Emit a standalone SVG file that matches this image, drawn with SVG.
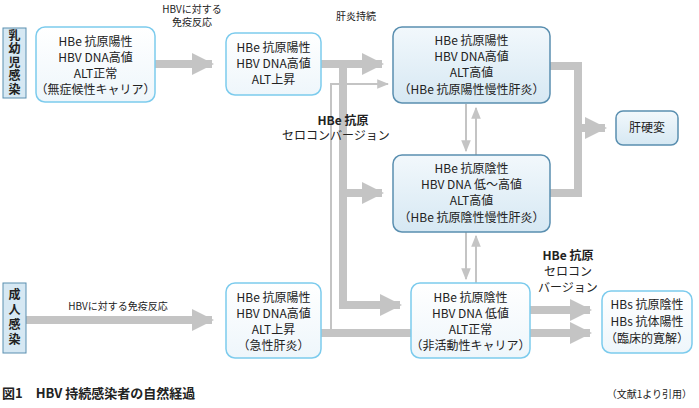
<svg xmlns="http://www.w3.org/2000/svg" width="699" height="408" viewBox="0 0 699 408">
<defs>
<linearGradient id="gw" x1="0" y1="0" x2="0" y2="1"><stop offset="0" stop-color="#ffffff"/><stop offset="1" stop-color="#eef6fb"/></linearGradient>
<linearGradient id="gb" x1="0" y1="0" x2="0" y2="1"><stop offset="0" stop-color="#f2f8fc"/><stop offset="1" stop-color="#d6e8f3"/></linearGradient>
<marker id="ah" viewBox="0 0 10 10" refX="9" refY="5" markerWidth="2.8" markerHeight="3.2" orient="auto" markerUnits="strokeWidth"><path d="M0,0L10,5L0,10z" fill="#c4c4c4"/></marker>
<marker id="at" viewBox="0 0 10 10" refX="9" refY="5" markerWidth="6" markerHeight="6" orient="auto" markerUnits="strokeWidth"><path d="M0,1L10,5L0,9z" fill="#c4c4c4"/></marker>
</defs>
<style>
text{font-family:"Noto Sans CJK JP","Noto Sans",sans-serif;fill:#222;text-anchor:middle}
.t{font-size:12px}
.v{font-size:12px;font-weight:bold;writing-mode:vertical-rl}
.s{font-size:10px}
.w{fill:url(#gw);stroke:#7ccbed;stroke-width:1.5}
.b{fill:url(#gb);stroke:#5a8fb0;stroke-width:1.5}
.side{fill:#d6e8f3;stroke:#5a8fb0;stroke-width:1}
.k{fill:none;stroke:#c4c4c4;stroke-width:8}
.n{fill:none;stroke:#c4c4c4;stroke-width:2}
</style>
<g id="connectors">
<path class="k" d="M155,64H212" marker-end="url(#ah)"/>
<path class="k" d="M321,64H382" marker-end="url(#ah)"/>
<path class="k" d="M343,64V305H400" marker-end="url(#ah)"/>
<path class="k" d="M343,193H382" marker-end="url(#ah)"/>
<path class="n" d="M331,333V84H388" marker-end="url(#at)"/>
<path class="k" d="M321,333H411"/>
<path class="k" d="M550,66H578V193H549"/>
<path class="k" d="M578,128H605" marker-end="url(#ah)"/>
<path class="k" d="M26,320H212" marker-end="url(#ah)"/>
<path class="k" d="M530,310H590" marker-end="url(#ah)"/>
<path class="k" d="M530,333H590" marker-end="url(#ah)"/>
<path class="n" d="M466,104V151" marker-end="url(#at)"/>
<path class="n" d="M476,155V108" marker-end="url(#at)"/>
<path class="n" d="M466,232V279" marker-end="url(#at)"/>
<path class="n" d="M476,283V236" marker-end="url(#at)"/>
</g>
<g id="side1"><rect class="side" x="3" y="28" width="23" height="70"/><text class="v" x="14.5" y="63" style="letter-spacing:1.5px">乳幼児感染</text></g>
<g id="side2"><rect class="side" x="3" y="283" width="23" height="70"/><text class="v" x="14.5" y="318" style="letter-spacing:3px">成人感染</text></g>
<g id="n1"><rect class="w" x="36" y="27" width="119" height="75" rx="9"/><text class="t" x="95.5" y="46">HBe 抗原陽性</text><text class="t" x="95.5" y="62">HBV DNA高値</text><text class="t" x="95.5" y="78">ALT正常</text><text class="t" x="95.5" y="94">（無症候性キャリア）</text></g>
<g id="n2"><rect class="w" x="226" y="33" width="95" height="62" rx="9"/><text class="t" x="273.5" y="52">HBe 抗原陽性</text><text class="t" x="273.5" y="68">HBV DNA高値</text><text class="t" x="273.5" y="84">ALT上昇</text></g>
<g id="n3"><rect class="b" x="393" y="27" width="157" height="76" rx="9"/><text class="t" x="471.5" y="45">HBe 抗原陽性</text><text class="t" x="471.5" y="61">HBV DNA高値</text><text class="t" x="471.5" y="77">ALT高値</text><text class="t" x="471.5" y="94">（HBe 抗原陽性慢性肝炎）</text></g>
<g id="n4"><rect class="b" x="393" y="155" width="157" height="77" rx="9"/><text class="t" x="471.5" y="173">HBe 抗原陰性</text><text class="t" x="471.5" y="189">HBV DNA 低〜高値</text><text class="t" x="471.5" y="205">ALT高値</text><text class="t" x="471.5" y="222">（HBe 抗原陰性慢性肝炎）</text></g>
<g id="n5"><rect class="b" x="616" y="111" width="62" height="34" rx="7"/><text class="t" x="647" y="132">肝硬変</text></g>
<g id="n6"><rect class="w" x="226" y="283" width="95" height="75" rx="9"/><text class="t" x="273.5" y="302">HBe 抗原陽性</text><text class="t" x="273.5" y="318">HBV DNA高値</text><text class="t" x="273.5" y="334">ALT上昇</text><text class="t" x="273.5" y="350">（急性肝炎）</text></g>
<g id="n7"><rect class="w" x="411" y="283" width="119" height="75" rx="9"/><text class="t" x="470.5" y="302">HBe 抗原陰性</text><text class="t" x="470.5" y="318">HBV DNA 低値</text><text class="t" x="470.5" y="334">ALT正常</text><text class="t" x="470.5" y="350">（非活動性キャリア）</text></g>
<g id="n8"><rect class="w" x="602" y="291" width="90" height="62" rx="9"/><text class="t" x="647" y="309">HBs 抗原陰性</text><text class="t" x="647" y="326">HBs 抗体陽性</text><text class="t" x="647" y="343">（臨床的寛解）</text></g>
<g id="labels">
<text class="s" x="192" y="13">HBVに対する</text><text class="s" x="192" y="26">免疫反応</text>
<text class="s" x="356" y="20">肝炎持続</text>
<text class="t" x="343" y="125" style="font-weight:bold">HBe 抗原</text><text class="t" x="336" y="140">セロコンバージョン</text>
<text class="t" x="568" y="260" style="font-weight:bold">HBe 抗原</text><text class="t" x="568" y="276">セロコン</text><text class="t" x="568" y="292">バージョン</text>
<text class="s" x="118" y="310">HBVに対する免疫反応</text>
<text x="2" y="398" style="font-size:13px;text-anchor:start;font-weight:bold">図1　HBV 持続感染者の自然経過</text>
<text class="s" x="692" y="398" style="text-anchor:end">（文献1より引用）</text>
</g>
</svg>
